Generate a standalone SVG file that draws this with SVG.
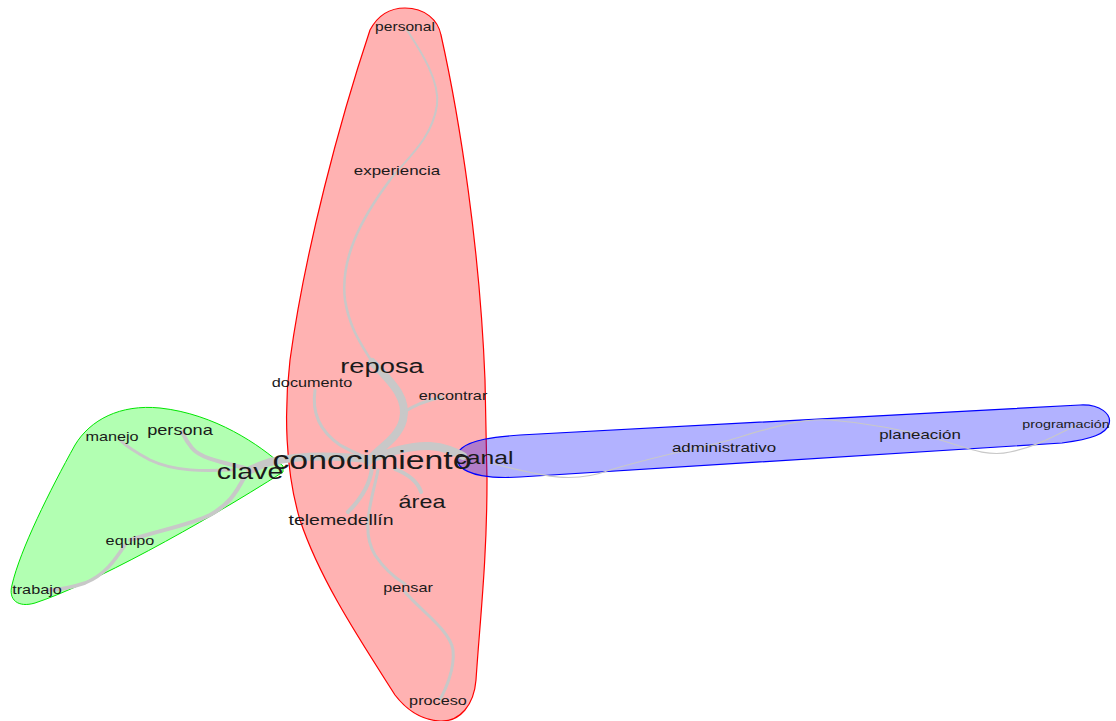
<svg xmlns="http://www.w3.org/2000/svg" width="1116" height="721" viewBox="0 0 1116 721">
  <style>
    .lbl { font-family: "Liberation Sans", Arial, sans-serif; fill: #1a1a1a; text-anchor: middle; dominant-baseline: central; }
    .edge { fill: none; stroke: #c8c8c8; stroke-linecap: round; }
  </style>
  <rect width="1116" height="721" fill="#ffffff"/>

  <!-- community hulls -->
  <g id="hull-red">
    <path d="M 405 8 C 425 8 438 20 441 35 C 460 120 480 250 485 380 L 487 480 C 487 560 480 620 476 680 C 474 705 460 722 440 721 C 420 720 405 708 395 695 C 360 640 320 580 300 520 C 285 470 284 410 290 360 C 305 250 340 120 370 30 C 378 15 390 8 405 8 Z" fill="rgba(255,0,0,0.3)" stroke="#ff0000" stroke-width="1.2"/>
  </g>
  <g id="hull-green">
    <path d="M 283 466 C 260 445 215 414 160 408 C 120 404 90 420 75 445 C 50 490 20 550 12 585 C 8 600 18 608 35 603 C 90 585 200 525 283 472 Z" fill="rgba(0,255,0,0.3)" stroke="#00e600" stroke-width="1"/>
  </g>
  <g id="hull-blue">
    <path d="M 462 448 C 472 440 492 437 520 435 L 1080 405 C 1100 404 1112 414 1109 424 C 1106 434 1092 439 1062 443 L 520 477 C 490 479 468 475 460 466 C 455 460 456 453 462 448 Z" fill="rgba(0,0,255,0.3)" stroke="#0000ff" stroke-width="1.2"/>
  </g>

  <!-- connectors -->
  <g id="connectors">
    <path class="edge" stroke-width="2" d="M 407 30 C 420 50 440 80 437 105 C 432 140 405 160 390 180"/>
    <path class="edge" stroke-width="2.5" d="M 390 180 C 360 220 340 260 345 300 C 350 330 362 345 372 362"/>
    <path class="edge" stroke-width="8" d="M 372 362 C 395 385 408 400 403 420 C 398 440 375 450 368 462"/>
    <path class="edge" stroke-width="3" d="M 404 412 C 415 405 428 400 442 397"/>
    <path class="edge" stroke-width="3" d="M 315 390 C 312 410 318 430 340 445 C 352 452 362 455 368 460"/>
    <path class="edge" stroke-width="8" d="M 368 460 C 390 452 410 445 430 446 C 445 447 455 452 463 456"/>
    <path class="edge" stroke-width="4" d="M 395 469 C 410 475 418 482 421 492"/>
    <path class="edge" stroke-width="4" d="M 372 468 C 370 485 360 500 348 512"/>
    <path class="edge" stroke-width="3" d="M 378 470 C 372 500 360 530 375 555 C 385 570 395 578 405 584"/>
    <path class="edge" stroke-width="3" d="M 405 592 C 420 610 450 630 453 650 C 455 670 445 690 440 700"/>
    <path class="edge" stroke-width="8" d="M 368 459 C 330 455 295 456 270 462 C 260 465 255 468 250 470"/>
    <path class="edge" stroke-width="4" d="M 245 468 C 220 462 200 458 192 448 C 186 441 184 436 182 432"/>
    <path class="edge" stroke-width="3" d="M 232 470 C 205 471 175 472 150 460 C 135 452 125 445 120 440"/>
    <path class="edge" stroke-width="4" d="M 245 476 C 235 495 228 505 210 515 C 190 525 160 530 130 540"/>
    <path class="edge" stroke-width="3.5" d="M 125 545 C 115 560 105 575 85 583 C 70 588 55 590 48 590"/>
    <path class="edge" stroke-width="1.2" d="M 490 463 C 540 475 570 485 610 470 C 660 455 700 448 730 440 C 770 428 800 418 830 420 C 870 423 900 430 930 437 C 960 445 985 458 1010 452 C 1040 446 1060 432 1080 424"/>
  </g>

  <!-- nodes (labels are drawn slightly widened) -->
  <g id="node-personal"><text class="lbl" transform="translate(405 27) scale(1.3 1)" font-size="12">personal</text></g>
  <g id="node-experiencia"><text class="lbl" transform="translate(397 170) scale(1.3 1)" font-size="13">experiencia</text></g>
  <g id="node-reposa"><text class="lbl" transform="translate(382 366) scale(1.3 1)" font-size="21">reposa</text></g>
  <g id="node-documento"><text class="lbl" transform="translate(312 383) scale(1.3 1)" font-size="12.5">documento</text></g>
  <g id="node-encontrar"><text class="lbl" transform="translate(453 396) scale(1.3 1)" font-size="12.5">encontrar</text></g>
  <g id="node-area"><text class="lbl" transform="translate(422 502) scale(1.3 1)" font-size="18">área</text></g>
  <g id="node-telemedellin"><text class="lbl" transform="translate(341 520) scale(1.3 1)" font-size="15">telemedellín</text></g>
  <g id="node-pensar"><text class="lbl" transform="translate(408 588) scale(1.3 1)" font-size="12.5">pensar</text></g>
  <g id="node-proceso"><text class="lbl" transform="translate(438 701) scale(1.3 1)" font-size="12.5">proceso</text></g>
  <g id="node-manejo"><text class="lbl" transform="translate(112 437) scale(1.3 1)" font-size="12.5">manejo</text></g>
  <g id="node-persona"><text class="lbl" transform="translate(180 430) scale(1.3 1)" font-size="14">persona</text></g>
  <g id="node-clave"><text class="lbl" transform="translate(250 471) scale(1.3 1)" font-size="22">clave</text></g>
  <g id="node-equipo"><text class="lbl" transform="translate(130 541) scale(1.3 1)" font-size="12.5">equipo</text></g>
  <g id="node-trabajo"><text class="lbl" transform="translate(37 590) scale(1.3 1)" font-size="12.5">trabajo</text></g>
  <g id="node-canal"><text class="lbl" transform="translate(484 458) scale(1.3 1)" font-size="19">canal</text></g>
  <g id="node-conocimiento"><text class="lbl" transform="translate(372 460) scale(1.3 1)" font-size="26">conocimiento</text></g>
  <g id="node-administrativo"><text class="lbl" transform="translate(724 447) scale(1.3 1)" font-size="13">administrativo</text></g>
  <g id="node-planeacion"><text class="lbl" transform="translate(920 434) scale(1.3 1)" font-size="13">planeación</text></g>
  <g id="node-programacion"><text class="lbl" transform="translate(1066 424) scale(1.3 1)" font-size="11">programación</text></g>
</svg>
